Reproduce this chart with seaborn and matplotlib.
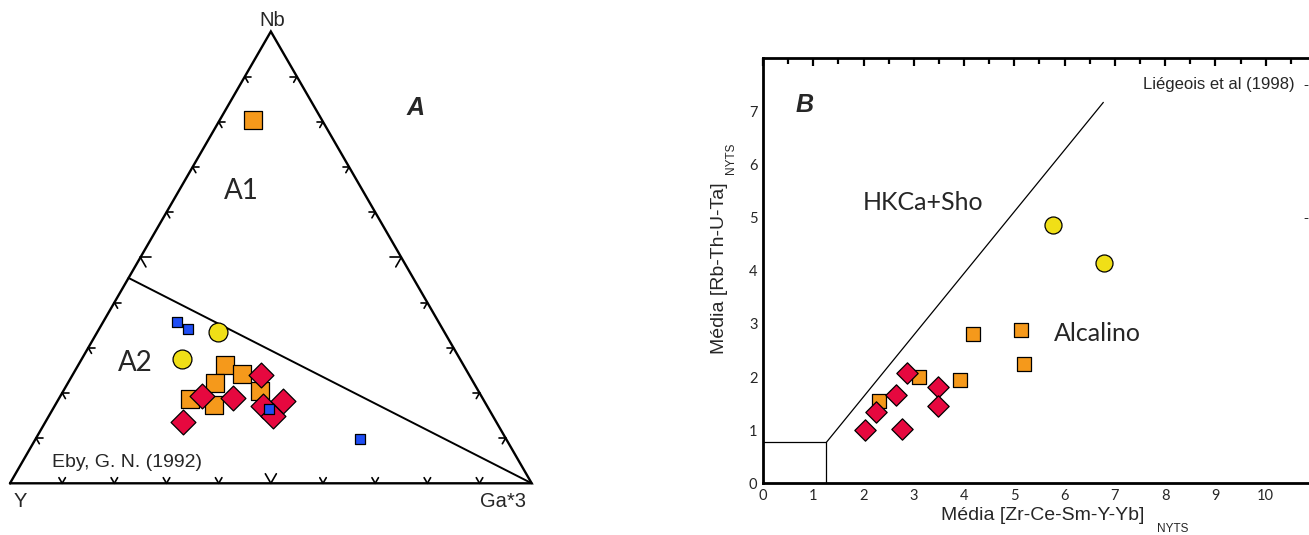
import numpy as np
import pandas as pd
import matplotlib
matplotlib.use("Agg")
import matplotlib.pyplot as plt
import seaborn as sns

sns.set_style("white")
plt.rcParams["font.family"] = ["Liberation Sans", "DejaVu Sans"]

# ---------------- Diagrama A: Nb - Y - Ga*3 (Eby, 1992) ----------------
# proporções (%) de cada amostra: Nb, Y, Ga*3
nb_laranja = [80.4, 26.2, 24.1, 22.1, 20.4, 18.6, 17.3]
y_laranja = [13.2, 45.7, 43.5, 49.6, 41.8, 56.2, 52.3]
ga_laranja = [6.4, 28.1, 32.4, 28.3, 37.8, 25.2, 30.4]

nb_vermelho = [17.1, 24.0, 19.3, 18.8, 18.3, 14.9, 13.6]
y_vermelho = [42.9, 39.9, 53.6, 47.8, 38.6, 42.2, 60.1]
ga_vermelho = [40.0, 36.1, 27.1, 33.4, 43.1, 42.9, 26.3]

nb_amarelo = [33.4, 27.5]
y_amarelo = [43.5, 53.3]
ga_amarelo = [23.1, 19.2]

nb_azul = [35.6, 34.2, 16.5, 9.8]
y_azul = [50.1, 48.8, 42.1, 28.0]
ga_azul = [14.3, 17.0, 41.4, 62.2]

# limite A1/A2: razão Y/Nb = 1.2
razao_y_nb = 1.2

# ---------------- Diagrama B: médias normalizadas ----------------
bx_amarelo = [5.77, 6.79]
by_amarelo = [4.87, 4.14]
bx_laranja = [4.18, 5.14, 5.19, 3.91, 3.11, 2.31]
by_laranja = [2.81, 2.89, 2.25, 1.95, 2.00, 1.55]
bx_vermelho = [2.86, 2.64, 2.24, 2.03, 2.77, 3.48, 3.48]
by_vermelho = [2.07, 1.66, 1.35, 1.00, 1.03, 1.82, 1.45]

# limites dos campos
caixa_x = [0.0, 1.26, 1.26]
caixa_y = [0.77, 0.77, 0.0]
limite_x = [1.26, 6.77]
limite_y = [0.77, 7.17]

xtick_rotulos = ["0", "1", "2", "3", "4", "5", "6", "7", "8", "9", "10"]
ytick_rotulos = ["0", "1", "2", "3", "4", "5", "6", "7"]

COR_LARANJA = "#F5991B"
COR_VERMELHO = "#E6083F"
COR_AMARELO = "#F0DF17"
COR_AZUL = "#1F4EF5"

W, H = 1309, 535
fig = plt.figure(figsize=(W / 100, H / 100), dpi=100)

# ---------------- eixo ternário ----------------
S = 521.7  # px por unidade de lado
axA = fig.add_axes([0, 0, 540 / W, 1])
axA.set_xlim(-10 / S, 530 / S)
axA.set_ylim(-51.7 / S, (H - 51.7) / S)
axA.axis("off")
R3 = np.sqrt(3) / 2


def ternario(nb, y, ga):
    nb, y, ga = (np.asarray(v, float) for v in (nb, y, ga))
    tot = nb + y + ga
    nb, ga = nb / tot, ga / tot
    return pd.DataFrame({"x": ga + nb / 2, "y": nb * R3})


axA.plot([0, 1, 0.5, 0], [0, 0, R3, 0], color="black", lw=1.7,
         solid_joinstyle="miter", zorder=2)
nb_lim = 1 / (1 + razao_y_nb)
axA.plot([nb_lim / 2, 1], [nb_lim * R3, 0], color="black", lw=1.4, zorder=2)

# marcas de graduação a cada 10 %
for k in range(1, 10):
    t = k / 10
    L = (11 if k == 5 else 6.5) / S
    arestas = [
        ((t, 0.0), (60, 120)),
        ((t / 2, t * R3), (0, -60)),
        ((1 - t / 2, t * R3), (180, 240)),
    ]
    for (px, py), angs in arestas:
        for a in angs:
            r = np.deg2rad(a)
            axA.plot([px, px + L * np.cos(r)], [py, py + L * np.sin(r)],
                     color="black", lw=1.2, zorder=2)

serieA = [
    (ternario(nb_laranja, y_laranja, ga_laranja), "s", 160, COR_LARANJA),
    (ternario(nb_vermelho, y_vermelho, ga_vermelho), "D", 160, COR_VERMELHO),
    (ternario(nb_amarelo, y_amarelo, ga_amarelo), "o", 185, COR_AMARELO),
    (ternario(nb_azul, y_azul, ga_azul), "s", 55, COR_AZUL),
]
for df, mk, sz, cor in serieA:
    sns.scatterplot(data=df, x="x", y="y", marker=mk, s=sz, color=cor,
                    edgecolor="black", linewidth=0.9, ax=axA, zorder=3,
                    legend=False)

axA.text(0.503, 0.8865, "Nb", ha="center", va="center", fontsize=14.5)
axA.text(0.019, -0.034, "Y", ha="center", va="center", fontsize=14.5)
axA.text(0.945, -0.034, "Ga*3", ha="center", va="center", fontsize=14.5)
axA.text(0.444, 0.561, "A1", ha="center", va="center", fontsize=20,
         family=["Lato", "DejaVu Sans"])
axA.text(0.241, 0.231, "A2", ha="center", va="center", fontsize=20,
         family=["Lato", "DejaVu Sans"])
axA.text(0.778, 0.72, "A", ha="center", va="center", fontsize=18,
         fontweight="bold", fontstyle="italic")
axA.text(0.080, 0.039, "Eby, G. N. (1992)", ha="left", va="center",
         fontsize=14)

# ---------------- eixo cartesiano ----------------
UX = 50.27
axB = fig.add_axes([763 / W, 51.7 / H, 12 * UX / W, 425 / H])
axB.set_xlim(0, 12)
axB.set_ylim(0, 8)

axB.plot(caixa_x, caixa_y, color="black", lw=0.9, zorder=2)
axB.plot(limite_x, limite_y, color="black", lw=0.9, zorder=2)

dfB_lar = pd.DataFrame({"x": bx_laranja, "y": by_laranja})
dfB_ver = pd.DataFrame({"x": bx_vermelho, "y": by_vermelho})
dfB_ama = pd.DataFrame({"x": bx_amarelo, "y": by_amarelo})
sns.scatterplot(data=dfB_lar, x="x", y="y", marker="s", s=115,
                color=COR_LARANJA, edgecolor="black", linewidth=0.9,
                ax=axB, zorder=3, legend=False)
sns.scatterplot(data=dfB_ver, x="x", y="y", marker="D", s=118,
                color=COR_VERMELHO, edgecolor="black", linewidth=0.9,
                ax=axB, zorder=3, legend=False)
sns.scatterplot(data=dfB_ama, x="x", y="y", marker="o", s=150,
                color=COR_AMARELO, edgecolor="black", linewidth=0.9,
                ax=axB, zorder=3, legend=False)

axB.set_xlabel("")
axB.set_ylabel("")
for sp in axB.spines.values():
    sp.set_linewidth(2.0)
    sp.set_color("black")

axB.set_xticks(np.arange(0, 13))
axB.set_xticklabels(xtick_rotulos + [""] * (13 - len(xtick_rotulos)))
axB.set_xticks(np.arange(0.5, 12, 1), minor=True)
axB.set_yticks(np.arange(0, 9))
axB.set_yticklabels(ytick_rotulos + [""])
axB.set_yticks(np.arange(0.5, 8, 1), minor=True)
axB.tick_params(axis="both", which="both", direction="in", top=True,
                right=True, color="black", width=1.6)
axB.tick_params(axis="both", which="major", length=5.5, labelsize=10.5,
                pad=4)
axB.tick_params(axis="both", which="minor", length=4)
for lab in axB.get_xticklabels() + axB.get_yticklabels():
    lab.set_family(["Lato", "DejaVu Sans"])

fl = ["Lato", "DejaVu Sans"]
axB.text(0.83, 7.13, "B", ha="center", va="center", fontsize=18,
         fontweight="bold", fontstyle="italic")
axB.text(3.19, 5.29, "HKCa+Sho", ha="center", va="center", fontsize=18,
         family=fl)
axB.text(6.65, 2.82, "Alcalino", ha="center", va="center", fontsize=18,
         family=fl)

# rótulos dos eixos com índice NYTS
fig.text(1042.5 / W, 1 - 515.5 / H, "Média [Zr-Ce-Sm-Y-Yb]", ha="center",
         va="center", fontsize=14)
fig.text(1173 / W, 1 - 529.5 / H, "NYTS", ha="center", va="center",
         fontsize=8.5)
fig.text(720 / W, 1 - 268 / H, "Média [Rb-Th-U-Ta]", ha="center",
         va="center", fontsize=14, rotation=90)
fig.text(731 / W, 1 - 158 / H, "NYTS", ha="center", va="center",
         fontsize=8.5, rotation=90)

fig.text(1295 / W, 1 - 85 / H, "Liégeois et al (1998)", ha="right",
         va="center", fontsize=12)
fig.text(1306 / W, 1 - 85 / H, "-", ha="center", va="center", fontsize=11)
fig.text(1306 / W, 1 - 218 / H, "-", ha="center", va="center", fontsize=11)

fig.savefig("out.png", dpi=100)
